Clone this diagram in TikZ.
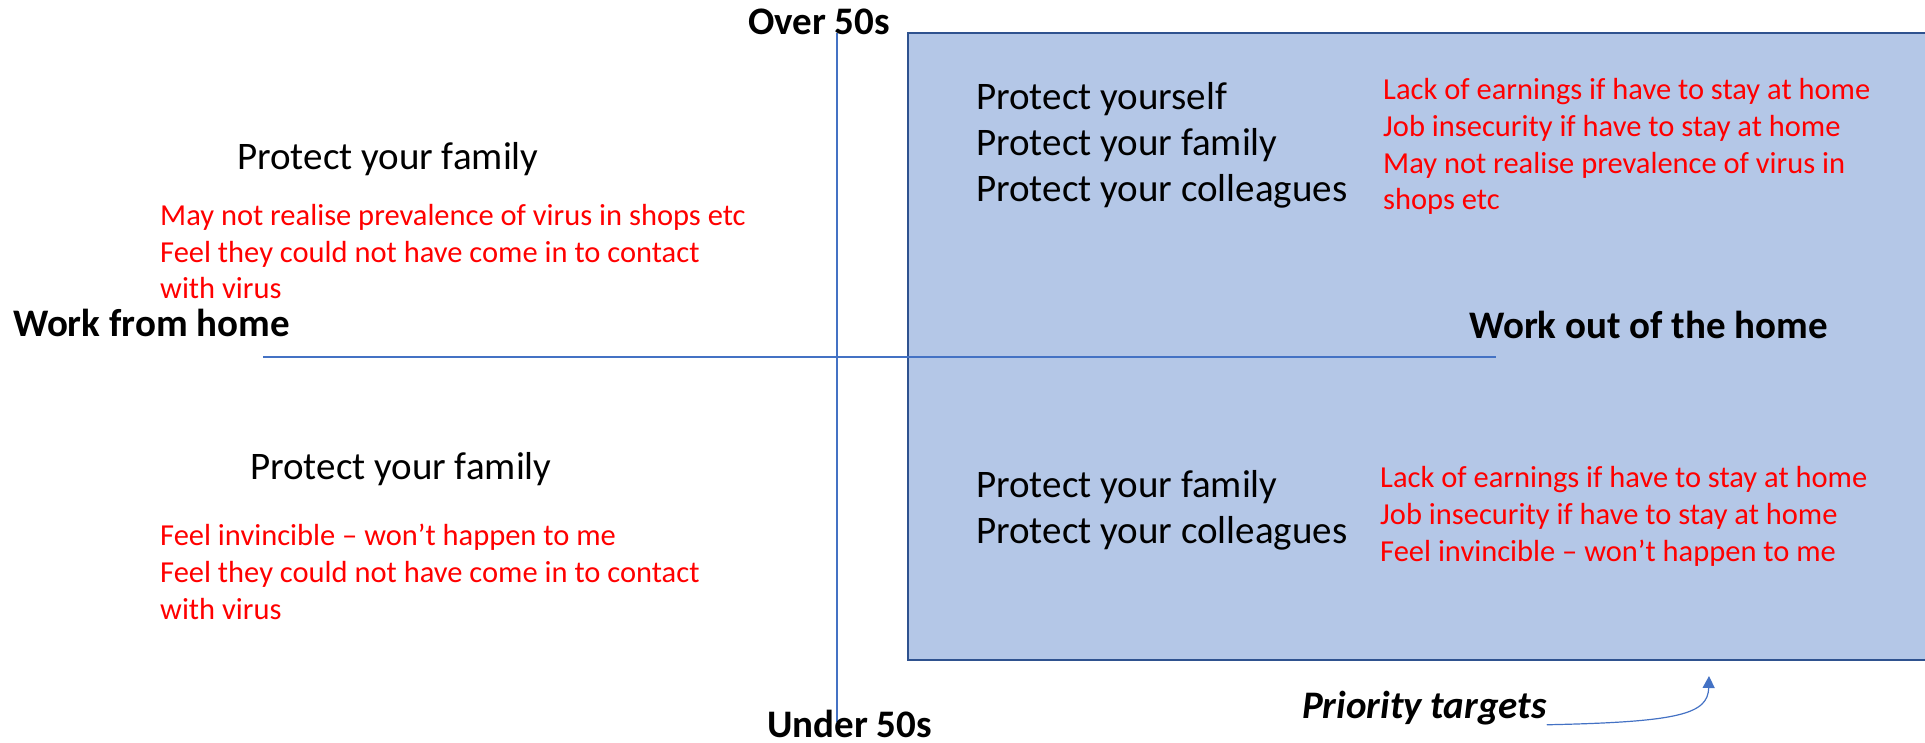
\documentclass[tikz,border=0pt]{standalone}
\usepackage{fontspec}
\setmainfont{Carlito}
\usetikzlibrary{arrows.meta}
\definecolor{quadfill}{HTML}{B4C7E7}
\definecolor{quadline}{HTML}{2F528F}
\definecolor{axisblue}{HTML}{4472C4}
% multi-line nodes sit on the baseline of their last line
\tikzstyle{axislabel} = [font=\fontsize{39}{47}\selectfont\bfseries, inner sep=0pt, anchor=base west]
\tikzstyle{motive} = [font=\fontsize{39}{46}\selectfont, align=left, inner sep=0pt, anchor=base west]
\tikzstyle{barrier} = [text=red, font=\fontsize{30.5}{36.7}\selectfont, align=left, inner sep=0pt, anchor=base west]
\tikzstyle{axis} = [draw=axisblue, line width=1.2pt]
\tikzstyle{quadrant} = [fill=quadfill, draw=quadline, line width=2.4pt]

\begin{document}
\begin{tikzpicture}[x=1pt, y=-1pt]
	\useasboundingbox (0,0) rectangle (1925,743);
	\clip (0,0) rectangle (1925,743);
	% working outside the home
	\path[quadrant] (908,33) rectangle (1945,660);
	% axes
	\coordinate (ytop) at (837,33);
	\coordinate (ybot) at (837,722);
	\coordinate (xleft) at (263,357);
	\coordinate (xright) at (1496,357);
	\draw[axis] (ytop) -- (ybot);
	\draw[axis] (xleft) -- (xright);
	\node[axislabel] (over) at (748,35) {Over 50s};
	\node[axislabel] (under) at (767,737) {Under 50s};
	\node[axislabel] (home) at (13,337) {Work from home};
	\node[axislabel] (away) at (1469,338) {Work out of the home};
	% over 50s, at home
	\node[motive] (olderhome) at (237,170) {Protect your family};
	\node[barrier] (olderhomebar) at (160,299) {May not realise prevalence of virus in shops etc\\Feel they could not have come in to contact\\with virus};
	% under 50s, at home
	\node[motive] (youngerhome) at (250,479) {Protect your family};
	\node[barrier] (youngerhomebar) at (160,619) {Feel invincible – won’t happen to me\\Feel they could not have come in to contact\\with virus};
	% over 50s, out of the home
	\node[motive] (olderaway) at (976,202) {Protect yourself\\Protect your family\\Protect your colleagues};
	\node[barrier] (olderawaybar) at (1383,210) {Lack of earnings if have to stay at home\\Job insecurity if have to stay at home\\May not realise prevalence of virus in\\shops etc};
	% under 50s, out of the home
	\node[motive] (youngeraway) at (976,543) {Protect your family\\Protect your colleagues};
	\node[barrier] (youngerawaybar) at (1380,561) {Lack of earnings if have to stay at home\\Job insecurity if have to stay at home\\Feel invincible – won’t happen to me};
	% pointer to the shaded quadrant
	\node[axislabel, font=\fontsize{39}{47}\selectfont\bfseries\itshape] (prio) at (1302,718) {Priority targets};
	\coordinate (tip) at (1709,676);
	\draw[axisblue, line width=1.2pt, -{Triangle[width=12pt, length=12pt]}] (prio.south east) .. controls (1680,722) and (1708,714) .. (tip);
\end{tikzpicture}
\end{document}
